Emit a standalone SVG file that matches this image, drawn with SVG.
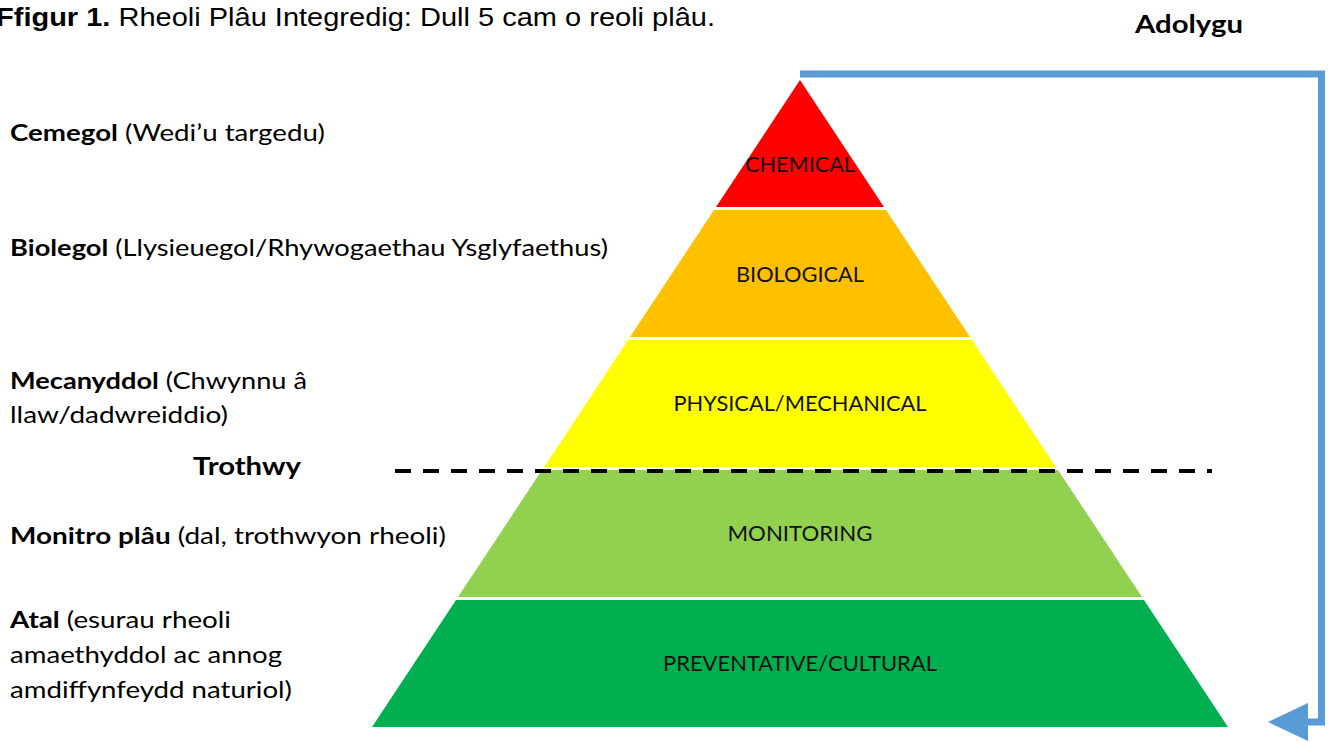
<svg xmlns="http://www.w3.org/2000/svg" width="1332" height="742" viewBox="0 0 1332 742">
<style>
.lbl{font-family:Lato,"Open Sans","Liberation Sans",sans-serif;font-size:23px;fill:#000}
.b{font-weight:bold}
.tier{font-family:Lato,"Open Sans","Liberation Sans",sans-serif;font-size:22px;fill:#111;text-anchor:middle}
.title{font-family:"Liberation Sans Narrow","Liberation Sans",sans-serif;font-size:26px;fill:#000}
.blue{fill:none;stroke:#5B9BD5;stroke-width:7}
</style>
<defs>
<clipPath id="clipAtal"><rect x="0" y="590" width="360" height="112"/></clipPath>
<marker id="ah" markerUnits="userSpaceOnUse" markerWidth="42" markerHeight="42" refX="2" refY="20" orient="auto">
<polygon points="0,1 40,20 0,39" fill="#5B9BD5"/>
</marker>
</defs>
<rect width="1332" height="742" fill="#fff"/>

<text class="title" x="-4" y="26" textLength="719" lengthAdjust="spacingAndGlyphs"><tspan class="b">Ffigur 1.</tspan> Rheoli Plâu Integredig: Dull 5 cam o reoli plâu.</text>

<g id="pyramid">
<g id="tier-chemical"><polygon points="800,80 884,207 716,207" fill="#FF0000"/><text class="tier" x="800" y="172" textLength="110" lengthAdjust="spacingAndGlyphs">CHEMICAL</text></g>
<g id="tier-biological"><polygon points="714,210 886,210 970,337 630,337" fill="#FFC000"/><text class="tier" x="800" y="282" textLength="128" lengthAdjust="spacingAndGlyphs">BIOLOGICAL</text></g>
<g id="tier-physical"><polygon points="628,340 972,340 1055.7,467 544.3,467" fill="#FFFF00"/><text class="tier" x="800" y="411" textLength="253" lengthAdjust="spacingAndGlyphs">PHYSICAL/MECHANICAL</text></g>
<g id="tier-monitoring"><polygon points="542,470 1058,470 1142,597 458,597" fill="#92D050"/><text class="tier" x="800" y="541" textLength="145" lengthAdjust="spacingAndGlyphs">MONITORING</text></g>
<g id="tier-preventative"><polygon points="456,600 1144,600 1228,727 372,727" fill="#00B050"/><text class="tier" x="800" y="671" textLength="274" lengthAdjust="spacingAndGlyphs">PREVENTATIVE/CULTURAL</text></g>
</g>

<g id="connectors">
<line id="threshold" x1="395" y1="471" x2="1212" y2="471" stroke="#000" stroke-width="4" stroke-dasharray="16 12"/>
<path id="review-loop" class="blue" d="M800,74 H1321.5 V722 H1306" marker-end="url(#ah)"/>
</g>

<g id="labels">
<g id="label-cemegol"><text class="lbl" x="10" y="141" textLength="315" lengthAdjust="spacingAndGlyphs"><tspan class="b">Cemegol</tspan> (Wedi’u targedu)</text></g>
<g id="label-biolegol"><text class="lbl" x="10" y="256" textLength="598" lengthAdjust="spacingAndGlyphs"><tspan class="b">Biolegol</tspan> (Llysieuegol/Rhywogaethau Ysglyfaethus)</text></g>
<g id="label-mecanyddol">
<text class="lbl" x="10" y="389" textLength="297" lengthAdjust="spacingAndGlyphs"><tspan class="b">Mecanyddol</tspan> (Chwynnu â</text>
<text class="lbl" x="10" y="423" textLength="218" lengthAdjust="spacingAndGlyphs">llaw/dadwreiddio)</text>
</g>
<g id="label-trothwy"><text class="lbl b" x="193" y="475" style="font-size:25px" textLength="108" lengthAdjust="spacingAndGlyphs">Trothwy</text></g>
<g id="label-monitro"><text class="lbl" x="10" y="544" textLength="436" lengthAdjust="spacingAndGlyphs"><tspan class="b">Monitro plâu</tspan> (dal, trothwyon rheoli)</text></g>
<g id="label-atal" clip-path="url(#clipAtal)">
<text class="lbl" x="10" y="628" textLength="221" lengthAdjust="spacingAndGlyphs"><tspan class="b">Atal</tspan> (esurau rheoli</text>
<text class="lbl" x="10" y="663" textLength="272" lengthAdjust="spacingAndGlyphs">amaethyddol ac annog</text>
<text class="lbl" x="10" y="698" textLength="282" lengthAdjust="spacingAndGlyphs">amdiffynfeydd naturiol)</text>
</g>
<g id="label-adolygu"><text class="lbl b" x="1135" y="33" style="font-size:25px" textLength="108" lengthAdjust="spacingAndGlyphs">Adolygu</text></g>
</g>
</svg>
